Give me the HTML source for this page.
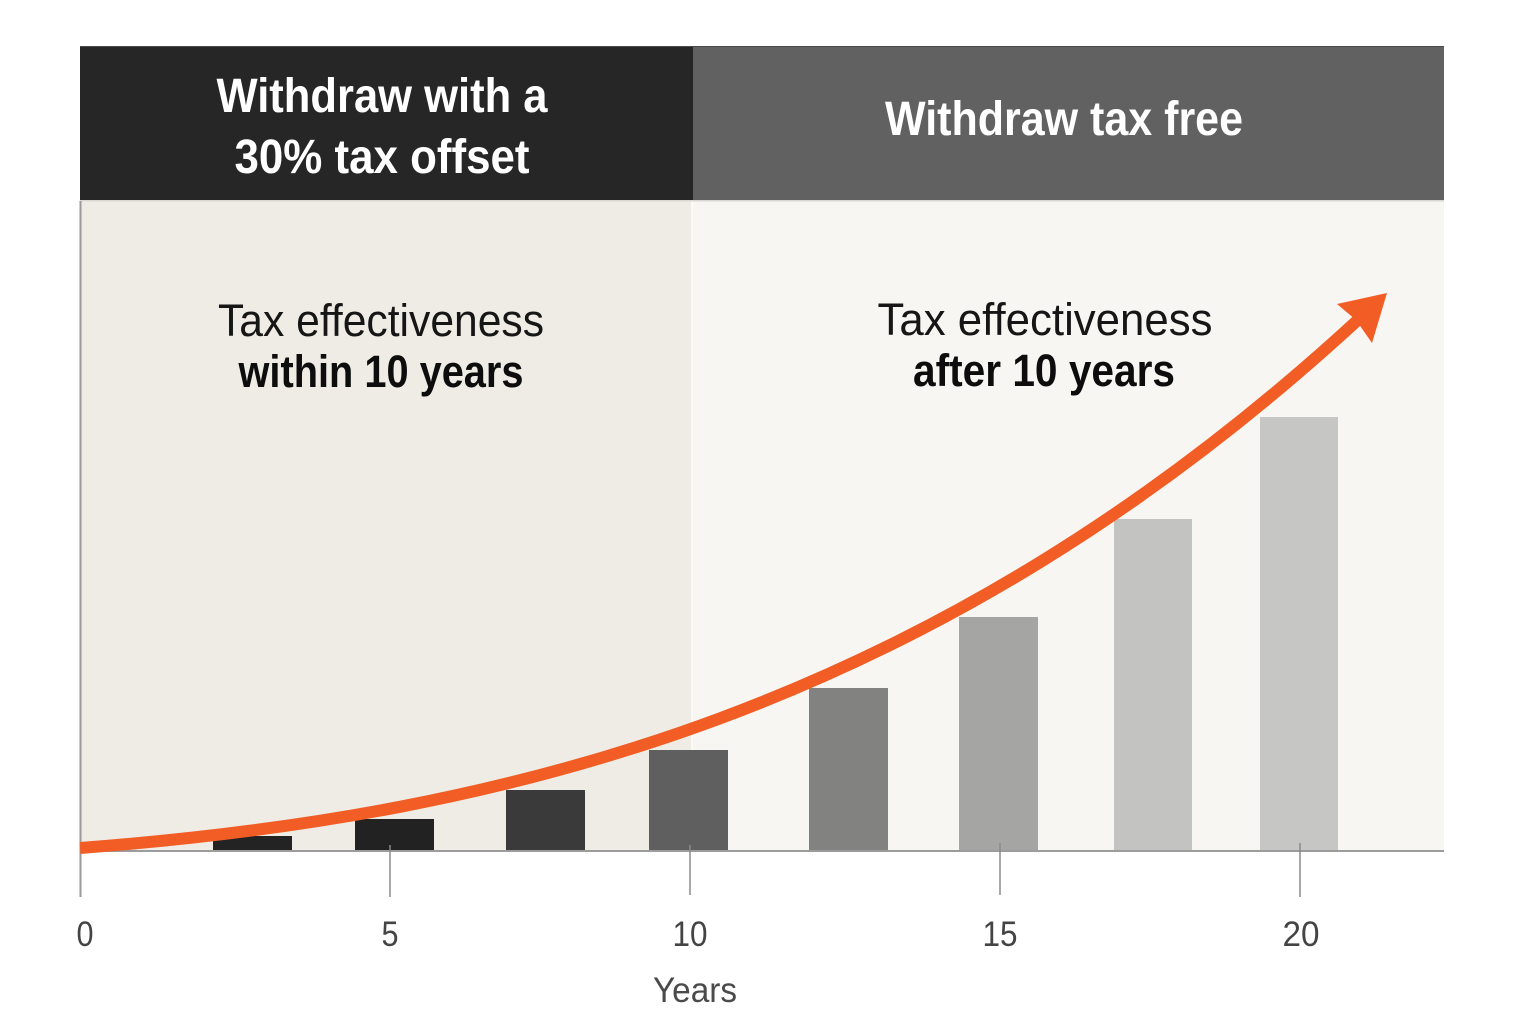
<!DOCTYPE html>
<html>
<head>
<meta charset="utf-8">
<style>
  html,body{margin:0;padding:0;background:#ffffff;}
  body{width:1536px;height:1024px;overflow:hidden;}
  svg{display:block;}
  text{font-family:"Liberation Sans", Arial, sans-serif;}
</style>
</head>
<body>
<svg width="1536" height="1024" viewBox="0 0 1536 1024" xmlns="http://www.w3.org/2000/svg">
  <rect x="0" y="0" width="1536" height="1024" fill="#ffffff"/>

  <!-- plot backgrounds -->
  <rect x="80" y="201" width="612" height="650" fill="#eeece5"/>
  <rect x="692" y="201" width="752" height="650" fill="#f7f6f2"/>
  <rect x="691" y="201" width="1.5" height="650" fill="#fbfaf7"/>

  <!-- headers -->
  <rect x="80" y="46" width="613" height="155" fill="#262626"/>
  <rect x="693" y="46" width="751" height="155" fill="#606160"/>
  <rect x="80" y="46" width="1364" height="1" fill="#4a4a4a"/>
  <rect x="80" y="200" width="1364" height="1.5" fill="#d8d7d2"/>

  <text x="382" y="112" font-size="48" font-weight="bold" fill="#ffffff" text-anchor="middle" textLength="331" lengthAdjust="spacingAndGlyphs">Withdraw with a</text>
  <text x="382" y="173" font-size="48" font-weight="bold" fill="#ffffff" text-anchor="middle" textLength="295" lengthAdjust="spacingAndGlyphs">30% tax offset</text>
  <text x="1064" y="135" font-size="48" font-weight="bold" fill="#ffffff" text-anchor="middle" textLength="358" lengthAdjust="spacingAndGlyphs">Withdraw tax free</text>

  <!-- body texts -->
  <text x="381" y="336" font-size="45" fill="#161616" text-anchor="middle" textLength="326" lengthAdjust="spacingAndGlyphs">Tax effectiveness</text>
  <text x="381" y="387" font-size="45" font-weight="bold" fill="#0d0d0d" text-anchor="middle" textLength="285" lengthAdjust="spacingAndGlyphs">within 10 years</text>
  <text x="1045" y="335" font-size="45" fill="#161616" text-anchor="middle" textLength="335" lengthAdjust="spacingAndGlyphs">Tax effectiveness</text>
  <text x="1044" y="386" font-size="45" font-weight="bold" fill="#0d0d0d" text-anchor="middle" textLength="262" lengthAdjust="spacingAndGlyphs">after 10 years</text>

  <!-- bars -->
  <rect x="213" y="836" width="79" height="15" fill="#232323"/>
  <rect x="355" y="819" width="79" height="32" fill="#222222"/>
  <rect x="506" y="790" width="79" height="61" fill="#3a3a3a"/>
  <rect x="649" y="750" width="79" height="101" fill="#5e5f5e"/>
  <rect x="809" y="688" width="79" height="163" fill="#828281"/>
  <rect x="959" y="617" width="79" height="234" fill="#a5a5a4"/>
  <rect x="1114" y="519" width="78" height="332" fill="#c3c3c2"/>
  <rect x="1260" y="417" width="78" height="434" fill="#c6c6c5"/>

  <!-- axes -->
  <rect x="79.5" y="201" width="2" height="696" fill="#9a9a9a"/>
  <rect x="80" y="850" width="1364" height="2" fill="#9c9c9c"/>
  <g stroke="#8a8a8a" stroke-width="1.5">
    <line x1="390" y1="845" x2="390" y2="897"/>
    <line x1="690" y1="845" x2="690" y2="895"/>
    <line x1="1000" y1="843" x2="1000" y2="895"/>
    <line x1="1300" y1="843" x2="1300" y2="897"/>
  </g>

  <!-- tick labels -->
  <g font-size="35" fill="#444444" text-anchor="middle">
    <text x="85" y="946" textLength="17" lengthAdjust="spacingAndGlyphs">0</text>
    <text x="390" y="946" textLength="17" lengthAdjust="spacingAndGlyphs">5</text>
    <text x="690" y="946" textLength="35" lengthAdjust="spacingAndGlyphs">10</text>
    <text x="1000" y="946" textLength="35" lengthAdjust="spacingAndGlyphs">15</text>
    <text x="1301" y="946" textLength="37" lengthAdjust="spacingAndGlyphs">20</text>
  </g>
  <text x="695" y="1002" font-size="35" fill="#4a4a4a" text-anchor="middle" textLength="84" lengthAdjust="spacingAndGlyphs">Years</text>

  <!-- curve -->
  <path d="M80,848 C506.67,815.5 933.33,711.4 1360,318" fill="none" stroke="#f15d24" stroke-width="12"/>
  <polygon points="1387,293 1337,304 1356,320 1372,343" fill="#f15d24"/>
</svg>
</body>
</html>
